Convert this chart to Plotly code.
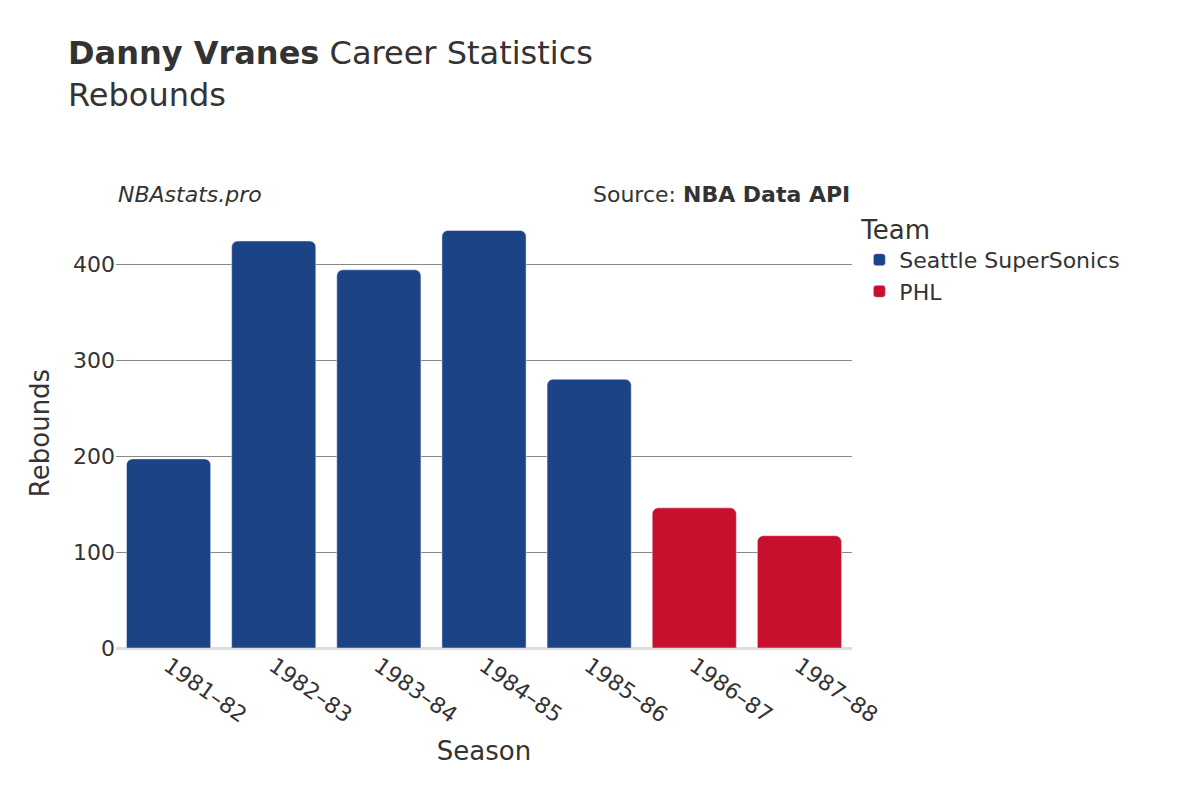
import plotly.graph_objects as go

seasons = ["1981–82", "1982–83", "1983–84", "1984–85", "1985–86", "1986–87", "1987–88"]
teams = ["Seattle SuperSonics"] * 5 + ["PHL"] * 2
rebounds = [197, 424, 394, 435, 280, 146, 117]
team_colors = {"Seattle SuperSonics": "#1b4386", "PHL": "#c8102e"}

fig = go.Figure()
for team in ["Seattle SuperSonics", "PHL"]:
    xs = [s for s, t in zip(seasons, teams) if t == team]
    ys = [r for r, t in zip(rebounds, teams) if t == team]
    fig.add_trace(go.Bar(x=xs, y=ys, name=team, marker_color=team_colors[team]))

fig.update_layout(
    width=1200, height=800,
    font=dict(family="DejaVu Sans", size=22, color="#333"),
    plot_bgcolor="white", paper_bgcolor="white",
    barcornerradius=6, bargap=0.2,
    margin=dict(l=108, r=356, t=210, b=160),
    title=dict(text="<b>Danny Vranes</b> Career Statistics<br>Rebounds",
               x=0.05, xanchor="left", y=0.93, yanchor="top", font=dict(size=32)),
    legend=dict(title=dict(text="Team", font=dict(size=26)), x=1.01, y=1.03,
                yanchor="top", font=dict(size=22)),
    xaxis=dict(title=dict(text="Season", font=dict(size=26)), tickangle=35,
               categoryorder="array", categoryarray=seasons),
    yaxis=dict(title=dict(text="Rebounds", font=dict(size=26)), range=[0, 448],
               gridcolor="#888", tickvals=[0, 100, 200, 300, 400],
               zeroline=True, zerolinecolor="#ddd", zerolinewidth=3),
    annotations=[
        dict(text="<i>NBAstats.pro</i>", xref="paper", yref="paper", x=0.0, y=1.02,
             xanchor="left", yanchor="bottom", showarrow=False, font=dict(size=22)),
        dict(text="Source: <b>NBA Data API</b>", xref="paper", yref="paper", x=1.0, y=1.02,
             xanchor="right", yanchor="bottom", showarrow=False, font=dict(size=22)),
    ],
)
fig.write_html("out.html")
